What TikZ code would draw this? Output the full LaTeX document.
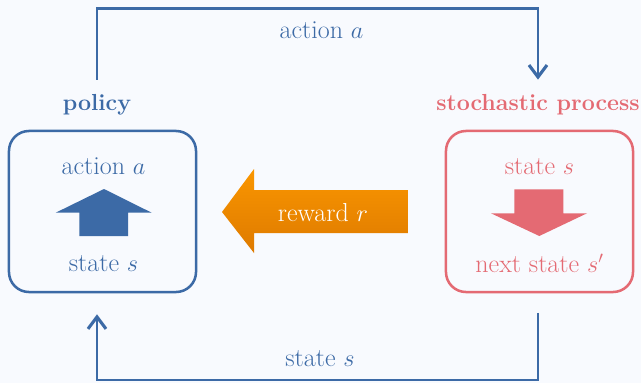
\documentclass[tikz,border=0pt]{standalone}
\usepackage{amsmath}
\usepackage{xcolor}
\usepackage{tikz}
\usetikzlibrary{positioning, calc, arrows.meta}
\definecolor{policyblue}{RGB}{60, 106, 166}
\definecolor{processred}{RGB}{228, 106, 115}
\definecolor{rewardtop}{RGB}{250, 150, 0}
\definecolor{rewardbot}{RGB}{222, 122, 0}
\definecolor{backdrop}{RGB}{248, 250, 254}

\begin{document}
\begin{tikzpicture}[x=0.025cm, y=-0.025cm,
    box/.style={draw, line width=1.8pt, rounded corners=0.5cm,
                minimum width=4.675cm, minimum height=4.025cm},
    head/.style={font=\fontsize{16.5}{18}\selectfont\bfseries, anchor=base,
                 inner xsep=0pt, inner ysep=0.35cm},
    txt/.style={font=\fontsize{18.5}{20}\selectfont, anchor=base, inner sep=1pt},
    link/.style={policyblue, line width=1.9pt,
                 -{Straight Barb[length=3mm, width=4.5mm, line width=2.2pt]}}]
    % background and frame
    \fill[backdrop] (0,0) rectangle (641,383);

    % policy side
    \node[box, draw=policyblue] (policybox) at (102.5,211.5) {};
    \node[head, text=policyblue] (policy) at (97,110) {policy};
    \node[txt, text=policyblue] (polact) at (103.5,174) {action $a$};
    \node[txt, text=policyblue] (polstate) at (103.5,271.5) {state $s$};
    \fill[policyblue] (79.3,236) -- (79.3,212.7) -- (55.7,212.7) -- (104,189)
        -- (151.7,212.7) -- (128,212.7) -- (128,236) -- cycle;

    % stochastic process side
    \node[box, draw=processred] (processbox) at (539.5,211.5) {};
    \node[head, text=processred] (process) at (538,110) {stochastic process};
    \node[txt, text=processred] (prostate) at (539.5,174.3) {state $s$};
    \node[txt, text=processred] (pronext) at (539.5,272) {next state $s'$};
    \fill[processred] (514.3,189.3) -- (563.3,189.3) -- (563.3,213.3) -- (587,213.3)
        -- (539.3,236) -- (491,213.3) -- (514.3,213.3) -- cycle;

    % reward arrow
    \shade[top color=rewardtop, bottom color=rewardbot]
        (222,212) -- (254,169) -- (254,190) -- (408,190) -- (408,233)
        -- (254,233) -- (254,253) -- cycle;
    \node[txt, text=white, anchor=center] (reward) at (323,213) {reward $r$};

    % connectors
    \coordinate (actline) at (320,8.5);
    \coordinate (stateline) at (320,380);
    \draw[link] (policy.north) |- (actline) -| (process.north);
    \node[txt, text=policyblue] (actlabel) at (321.5,38.3) {action $a$};
    \draw[link, shorten <=0.49cm, shorten >=0.525cm]
        (process |- processbox.south) |- (stateline) -| (policy |- policybox.south);
    \node[txt, text=policyblue] (statelabel) at (320,366) {state $s$};
\end{tikzpicture}
\end{document}
